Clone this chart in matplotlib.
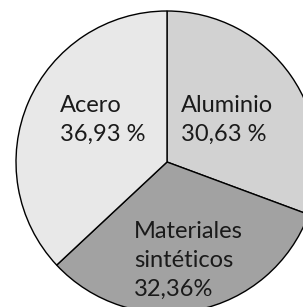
import matplotlib
matplotlib.use("Agg")
import matplotlib.pyplot as plt

categories = ["Aluminio", "Materiales sintéticos", "Acero"]
values = [30.63, 32.36, 36.93]
colors = ["#d2d2d2", "#a2a2a2", "#e8e8e8"]
label_lines = [["Aluminio", "30,63 %"], ["Materiales", "sintéticos", "32,36%"], ["Acero", "36,93 %"]]

W, H = 303, 307
cx, cy, R = 167, 162, 151  # pixel center/radius (from top)

fig = plt.figure(figsize=(W / 100, H / 100), dpi=100)
ax = fig.add_axes([0, 0, 1, 1])
ax.pie(values, colors=colors, startangle=90, counterclock=False,
       wedgeprops=dict(edgecolor="black", linewidth=1.0))
ax.set_aspect("auto")
ax.set_xlim(-cx / R, (W - cx) / R)
ax.set_ylim(-(H - cy) / R, cy / R)
ax.axis("off")

def px(x, y):
    return (x - cx) / R, (cy - y) / R

# label anchors (left x, first baseline y) in pixel coords, line spacing
anchors = [(181, 112), (134, 238), (60, 112)]
spacings = [28.5, 29, 28.5]
font = dict(family=["Lato", "DejaVu Sans"], fontsize=17, fontweight="normal", color="#1a1a1a")
for lines, (x0, y0), sp in zip(label_lines, anchors, spacings):
    for i, t in enumerate(lines):
        xd, yd = px(x0, y0 + i * sp)
        ax.text(xd, yd, t, ha="left", va="baseline", **font)

fig.savefig("out.png", dpi=100)
